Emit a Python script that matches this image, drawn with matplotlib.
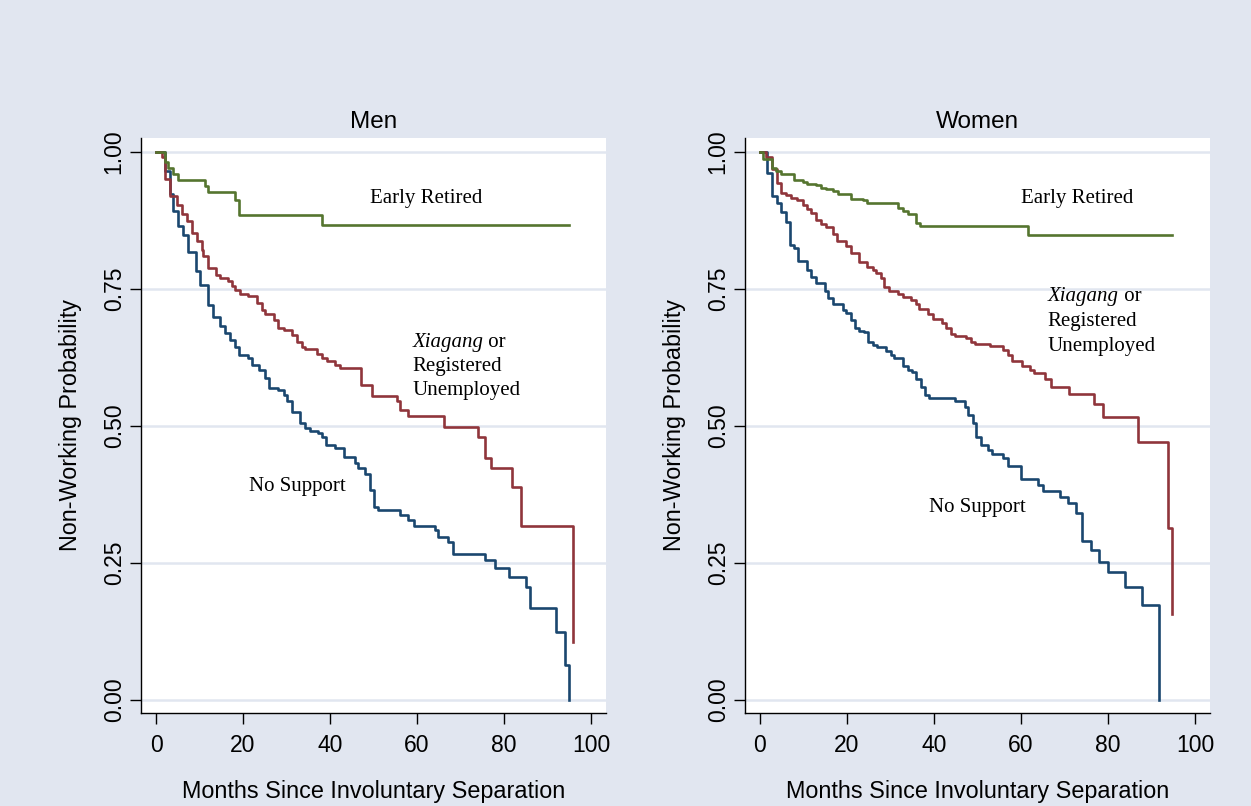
import matplotlib
matplotlib.use("Agg")
import matplotlib.pyplot as plt

# Kaplan-Meier style step curves
men_early_t = [0, 2.1, 2.8, 4.0, 5.1, 11.3, 12.0, 18.2, 19.1, 38.1, 94.9]
men_early_p = [1.0, 0.981, 0.971, 0.959, 0.949, 0.938, 0.927, 0.912, 0.885, 0.866, 0.866]

men_xia_t = [0, 1.3, 2.1, 3.2, 4.75, 5.9, 7.05, 8.2, 9.35, 10.5, 10.9, 12.0, 13.9, 14.7,
             16.6, 17.4, 18.2, 19.2, 21.2, 23.1, 24.3, 25.1, 27.0, 28.1, 29.3, 31.2,
             32.3, 33.5, 34.3, 36.9, 38.1, 39.2, 41.1, 42.3, 47.1, 49.6, 55.3, 56.1,
             58.0, 66.1, 74.1, 75.6, 76.9, 81.9, 83.8, 95.9]
men_xia_p = [1.0, 0.99, 0.95, 0.92, 0.904, 0.886, 0.874, 0.852, 0.837, 0.822, 0.81, 0.788,
             0.776, 0.770, 0.764, 0.755, 0.749, 0.741, 0.738, 0.724, 0.712, 0.705, 0.694,
             0.679, 0.676, 0.666, 0.654, 0.645, 0.640, 0.631, 0.624, 0.618, 0.612, 0.605,
             0.575, 0.554, 0.545, 0.529, 0.519, 0.498, 0.480, 0.441, 0.423, 0.389, 0.318,
             0.105]

men_none_t = [0, 2.1, 3.2, 4.0, 5.1, 6.3, 7.4, 9.1, 10.2, 12.0, 13.2, 14.7, 15.9, 17.0,
              18.2, 19.0, 21.2, 22.0, 23.7, 25.1, 26.0, 28.1, 29.3, 30.0, 31.2, 33.0,
              34.3, 35.5, 37.3, 38.1, 39.1, 41.1, 43.1, 45.7, 46.5, 48.0, 49.2, 50.0,
              51.1, 56.1, 58.0, 59.2, 64.1, 64.9, 67.2, 68.2, 75.6, 77.9, 81.0, 85.1,
              86.0, 92.0, 94.0, 94.9]
men_none_p = [1.0, 0.965, 0.923, 0.892, 0.865, 0.849, 0.817, 0.782, 0.758, 0.721, 0.698,
              0.682, 0.670, 0.657, 0.645, 0.630, 0.624, 0.612, 0.602, 0.587, 0.569, 0.566,
              0.557, 0.545, 0.526, 0.505, 0.496, 0.491, 0.487, 0.480, 0.465, 0.459, 0.444,
              0.432, 0.423, 0.413, 0.383, 0.352, 0.346, 0.337, 0.328, 0.318, 0.310, 0.297,
              0.288, 0.267, 0.255, 0.240, 0.224, 0.206, 0.167, 0.124, 0.063, 0.0]

women_early_t = [0, 0.6, 2.8, 3.6, 4.8, 7.8, 9.8, 10.9, 12.8, 14.0, 15.1, 16.8, 18.0,
                 20.9, 23.6, 24.7, 31.8, 32.8, 33.9, 35.9, 36.8, 61.6, 94.7]
women_early_p = [1.0, 0.987, 0.971, 0.965, 0.959, 0.949, 0.946, 0.942, 0.939, 0.935, 0.932,
                 0.929, 0.924, 0.915, 0.912, 0.907, 0.897, 0.892, 0.887, 0.871, 0.865,
                 0.849, 0.849]

women_xia_t = [0, 1.3, 2.8, 3.8, 4.8, 5.9, 7.1, 8.6, 9.8, 10.9, 11.7, 12.8, 14.0, 15.1,
               16.8, 17.8, 19.7, 20.9, 22.8, 24.7, 25.9, 26.7, 27.8, 28.6, 29.7, 31.6,
               32.8, 34.7, 35.9, 36.6, 38.6, 39.7, 41.8, 42.8, 43.9, 44.7, 47.4, 48.5,
               49.3, 52.8, 55.8, 57.0, 57.8, 60.1, 62.0, 63.0, 65.4, 66.8, 71.0, 76.8,
               78.9, 86.9, 93.8, 94.7]
women_xia_p = [1.0, 0.99, 0.968, 0.944, 0.926, 0.921, 0.916, 0.912, 0.904, 0.896, 0.888,
               0.876, 0.869, 0.863, 0.851, 0.837, 0.828, 0.816, 0.799, 0.791, 0.784, 0.779,
               0.770, 0.753, 0.746, 0.741, 0.735, 0.730, 0.723, 0.713, 0.705, 0.695, 0.688,
               0.679, 0.668, 0.665, 0.660, 0.654, 0.650, 0.646, 0.638, 0.630, 0.618, 0.610,
               0.602, 0.596, 0.586, 0.571, 0.559, 0.540, 0.517, 0.470, 0.313, 0.157]

women_none_t = [0, 1.7, 2.8, 4.0, 4.8, 5.9, 6.9, 7.8, 8.7, 10.9, 11.8, 12.8, 14.9, 15.7,
                16.8, 19.0, 19.7, 20.9, 21.8, 22.8, 24.0, 24.9, 25.9, 26.8, 29.0, 30.1,
                30.9, 32.8, 33.9, 34.9, 35.9, 37.0, 37.9, 38.9, 44.9, 47.0, 47.9, 48.9,
                49.7, 50.8, 52.4, 53.2, 55.8, 57.0, 59.9, 63.9, 65.0, 68.9, 70.8, 72.7,
                73.9, 76.0, 77.9, 80.0, 83.9, 87.7, 91.8]
women_none_p = [1.0, 0.962, 0.920, 0.907, 0.890, 0.872, 0.831, 0.825, 0.801, 0.785, 0.772,
                0.760, 0.746, 0.734, 0.723, 0.712, 0.707, 0.694, 0.679, 0.674, 0.671, 0.654,
                0.648, 0.644, 0.636, 0.630, 0.624, 0.609, 0.602, 0.598, 0.585, 0.572, 0.557,
                0.551, 0.545, 0.535, 0.520, 0.505, 0.480, 0.465, 0.456, 0.449, 0.441, 0.427,
                0.404, 0.392, 0.382, 0.370, 0.359, 0.341, 0.291, 0.273, 0.252, 0.234, 0.207,
                0.173, 0.0]

panel_titles = ["Men", "Women"]
x_ticks = [0, 20, 40, 60, 80, 100]
y_ticks = [0.0, 0.25, 0.5, 0.75, 1.0]

bg = "#e1e6f0"
grid_col = "#e1e6f0"
c_none = "#1a476f"
c_xia = "#90353b"
c_early = "#55752f"

plt.rcParams["font.family"] = ["Liberation Sans", "DejaVu Sans"]

fig = plt.figure(figsize=(12.51, 8.06), dpi=100, facecolor=bg)
ax1 = fig.add_axes([0.1127, 0.1154, 0.3717, 0.7134])
ax2 = fig.add_axes([0.5955, 0.1154, 0.3717, 0.7134])

panels = [
    (ax1, men_early_t, men_early_p, men_xia_t, men_xia_p, men_none_t, men_none_p),
    (ax2, women_early_t, women_early_p, women_xia_t, women_xia_p, women_none_t, women_none_p),
]

for i, (ax, et, ep, xt, xp, nt, npr) in enumerate(panels):
    ax.set_facecolor("white")
    for y in y_ticks:
        ax.axhline(y, color=grid_col, lw=1.8, zorder=0)
    ax.step(nt, npr, where="post", color=c_none, lw=1.9)
    ax.step(xt, xp, where="post", color=c_xia, lw=1.9)
    ax.step(et, ep, where="post", color=c_early, lw=1.9)
    ax.set_xlim(-3.45, 103.4)
    ax.set_ylim(-0.0237, 1.0255)
    ax.set_xticks(x_ticks)
    ax.set_yticks(y_ticks)
    ax.set_yticklabels(["%.2f" % v for v in y_ticks], rotation=90, va="center")
    ax.tick_params(direction="out", length=8, width=1, labelsize=16.5)
    ax.tick_params(axis="x", pad=7)
    ax.tick_params(axis="y", pad=3)
    for s in ["top", "right"]:
        ax.spines[s].set_visible(False)
    ax.spines["left"].set_linewidth(1)
    ax.spines["bottom"].set_linewidth(1)
    ax.set_title(panel_titles[i], fontsize=17.5, pad=7)
    ax.set_xlabel("Months Since Involuntary Separation", fontsize=16.8, labelpad=17)
    ax.set_ylabel("Non-Working Probability", fontsize=16.8, labelpad=15)

serif = ["Liberation Serif", "DejaVu Serif"]
fs = 15

# Men labels
ax1.text(62.1, 0.915, "Early Retired", family=serif, fontsize=fs, ha="center", va="center")
ax1.text(58.9, 0.609, "Registered", family=serif, fontsize=fs, ha="left", va="center")
ax1.text(58.9, 0.565, "Unemployed", family=serif, fontsize=fs, ha="left", va="center")
ax1.text(32.6, 0.390, "No Support", family=serif, fontsize=fs, ha="center", va="center")

# Women labels
ax2.text(72.8, 0.915, "Early Retired", family=serif, fontsize=fs, ha="center", va="center")
ax2.text(66.1, 0.690, "Registered", family=serif, fontsize=fs, ha="left", va="center")
ax2.text(66.1, 0.645, "Unemployed", family=serif, fontsize=fs, ha="left", va="center")
ax2.text(50.0, 0.352, "No Support", family=serif, fontsize=fs, ha="center", va="center")

# "Xiagang or" line: italic word followed by regular "or"
fig.canvas.draw()
for ax, x0, y0 in [(ax1, 58.9, 0.653), (ax2, 66.1, 0.736)]:
    t = ax.text(x0, y0, "Xiagang", family=serif, style="italic", fontsize=fs,
                ha="left", va="center")
    bb = t.get_window_extent(renderer=fig.canvas.get_renderer())
    x_end = ax.transData.inverted().transform((bb.x1, bb.y0))[0]
    ax.text(x_end, y0, " or", family=serif, fontsize=fs, ha="left", va="center")

fig.savefig("out.png", dpi=100, facecolor=bg)
